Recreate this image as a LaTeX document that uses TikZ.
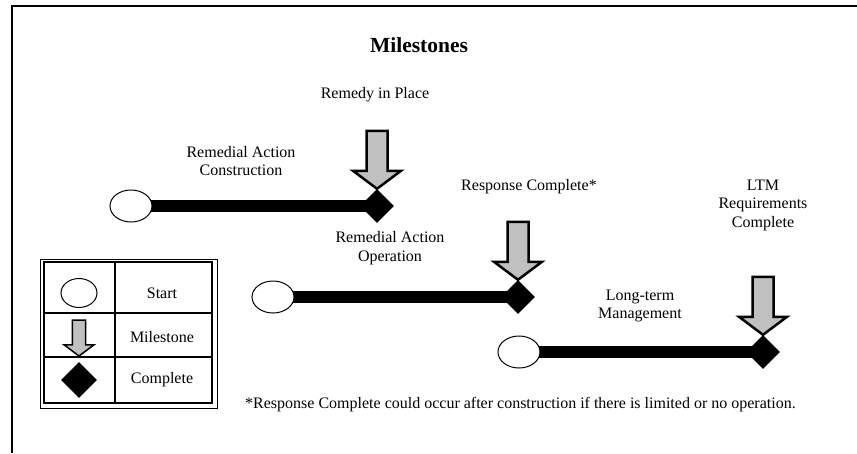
\documentclass[tikz,border=0pt]{standalone}
\usepackage{fontspec}
\setmainfont{Liberation Serif}
\usetikzlibrary{shapes.geometric,backgrounds}
\definecolor{arrowgray}{RGB}{192,192,192}
\tikzset{
  start/.style={ellipse, draw, fill=white, line width=1pt,
    minimum width=42pt, minimum height=32pt, inner sep=0pt},
  done/.style={diamond, fill=black, minimum width=34pt,
    minimum height=34pt, inner sep=0pt},
  bar/.style={line width=12pt},
  lbl/.style={align=center, font=\fontsize{16}{18.5}\selectfont},
  marrow/.style={draw=black, fill=arrowgray, line width=2.5pt, line join=miter},
}
% down arrow, tip at #2
\newcommand{\mstone}[2][]{%
  \draw[marrow,shift={(#2)},#1] (0,0) -- (-24,-18) -- (-10.5,-18) -- (-10.5,-58)
    -- (10.5,-58) -- (10.5,-18) -- (24,-18) -- cycle;}
\begin{document}
\begin{tikzpicture}[x=1pt,y=-1pt]
        \useasboundingbox (0,0) rectangle (857,453);
        \draw[line width=2.5pt] (857,6) -- (12,6) -- (12,453);
        \node[font=\bfseries\fontsize{21.5}{25}\selectfont] (title) at (419,45) {Milestones};

        % the three phases
        \node[start] (s1) at (131,206) {};
        \node[done]  (c1) at (377,206) {};
        \node[start] (s2) at (273,297) {};
        \node[done]  (c2) at (518,297) {};
        \node[start] (s3) at (519,352) {};
        \node[done]  (c3) at (763,352) {};
        \begin{scope}[on background layer]
          \draw[bar] (s1.center) -- (c1.center);
          \draw[bar] (s2.center) -- (c2.center);
          \draw[bar] (s3.center) -- (c3.center);
        \end{scope}
        \mstone{c1.north}
        \mstone{c2.north}
        \mstone{c3.north}

        \node[lbl] (remedy) at (375,95) {Remedy in Place};
        \node[lbl] (rac) at (241,161) {Remedial Action\\Construction};
        \node[lbl] (rao) at (390,248) {Remedial Action\\Operation};
        \node[lbl] (resp) at (529,187) {Response Complete*};
        \node[lbl] (ltm) at (640,306) {Long-term\\Management};
        \node[lbl] (ltmreq) at (763,205) {LTM\\Requirements\\Complete};
        \node[lbl, anchor=west, inner sep=0pt] (note) at (245,405)
          {*Response Complete could occur after construction if there is limited or no operation.};

        % legend
        \draw[line width=0.6pt] (40,259) rectangle (217,408);
        \draw[line width=1.5pt] (44,262) rectangle (212,403);
        \draw[line width=1.5pt] (115,262) -- (115,403);
        \draw[line width=1.5pt] (44,313) -- (212,313);
        \draw[line width=1.5pt] (44,357) -- (212,357);
        \node[start, minimum width=36pt, minimum height=29pt] (ls) at (79,293) {};
        \mstone[scale=0.62, line width=1.5pt]{79,356}
        \node[done, minimum width=36pt, minimum height=36pt] (lc) at (79,380) {};
        \node[lbl] (tstart) at (162,293) {Start};
        \node[lbl] (tmile) at (162,337) {Milestone};
        \node[lbl] (tdone) at (162,380) {Complete};
      \end{tikzpicture}
\end{document}
